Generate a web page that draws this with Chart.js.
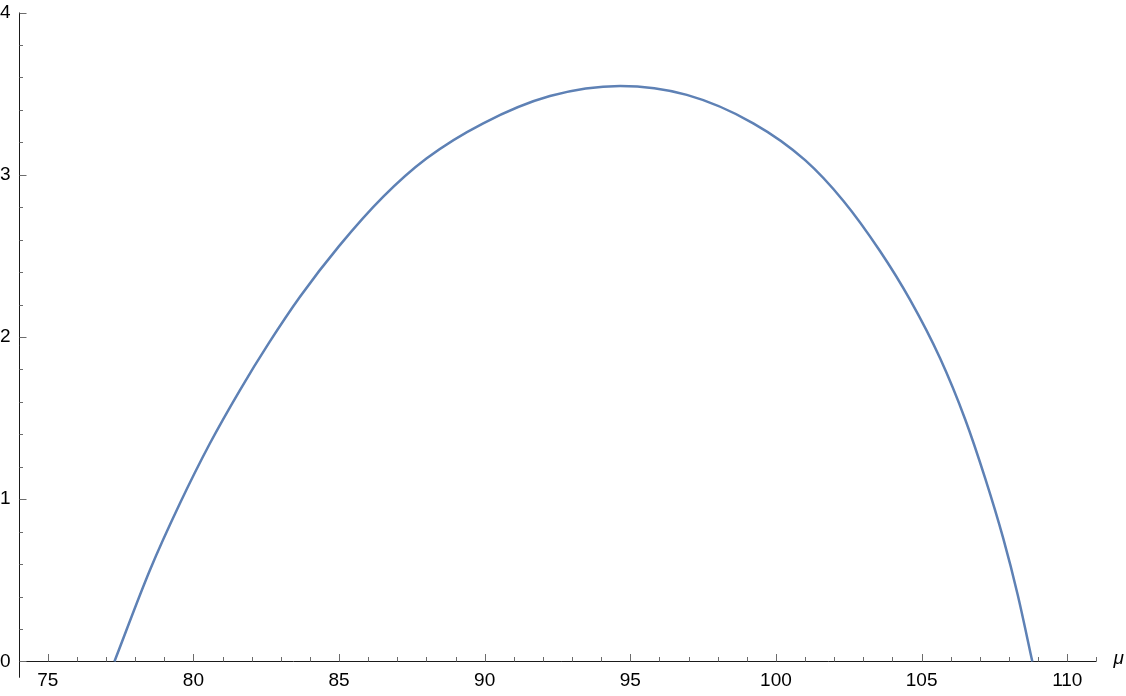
<!DOCTYPE html>
<html>
<head>
<meta charset="utf-8">
<title>Curve over mu</title>
<script src="https://cdn.jsdelivr.net/npm/chart.js@4/dist/chart.umd.min.js"></script>
<style>
  html, body { margin: 0; padding: 0; background: #fff; }
  #wrap { width: 1126px; height: 696px; position: relative; }
</style>
</head>
<body>
<div id="wrap"><canvas id="curveChart"></canvas></div>
<script>
// values
const muValues = [77.29, 78.51, 79.54, 80.57, 81.60, 82.60, 83.66, 85.0, 86.52, 88.0,
  89.95, 92.24, 94.65, 96.94, 99.22, 101.0, 102.31, 103.57, 104.6, 105.63,
  106.5, 107.18, 107.8, 108.3, 108.8];
const curveValues = [0, 0.564, 0.975, 1.345, 1.673, 1.965, 2.248, 2.56, 2.865, 3.10,
  3.317, 3.485, 3.547, 3.492, 3.317, 3.09, 2.84, 2.53, 2.23, 1.87,
  1.49, 1.13, 0.76, 0.41, 0];
const xTickLabels = [75, 80, 85, 90, 95, 100, 105, 110];
const yTickLabels = [0, 1, 2, 3, 4];

const colors = {
  curve: "#5e81b5",
  axis: "#1a1a1a",
  tick: "#6b6b6b",
  text: "#000000",
};
const labelFont = "19px 'Liberation Sans', Arial, sans-serif";

// Mathematica-style axes: lines through the origin, ticks pointing inwards
const axesPlugin = {
  id: "mmaAxes",
  beforeDatasetsDraw(chart) {
    const { ctx, scales } = chart;
    const xs = scales.x, ys = scales.y;
    const y0 = Math.round(ys.getPixelForValue(0)) + 0.5;
    const xLeft = Math.round(xs.getPixelForValue(xs.min)) + 0.5;

    ctx.save();
    ctx.lineWidth = 1;

    // axis lines
    ctx.strokeStyle = colors.axis;
    ctx.beginPath();
    ctx.moveTo(xLeft, ys.getPixelForValue(ys.min));
    ctx.lineTo(xLeft, ys.getPixelForValue(ys.max));
    ctx.moveTo(xs.getPixelForValue(74.25), y0);
    ctx.lineTo(xs.getPixelForValue(xs.max), y0);
    ctx.stroke();

    // x ticks, every 1, major every 5
    ctx.strokeStyle = colors.tick;
    ctx.beginPath();
    for (let v = 75; v <= xs.max; v++) {
      const px = Math.round(xs.getPixelForValue(v)) + 0.5;
      const len = v % 5 === 0 ? 7.5 : 4.5;
      ctx.moveTo(px, y0);
      ctx.lineTo(px, y0 - len);
    }
    // y ticks, every 0.2, major every 1
    for (let i = 0; i <= 20; i++) {
      const py = Math.round(ys.getPixelForValue(i * 0.2)) + 0.5;
      const len = i % 5 === 0 ? 7 : 3.5;
      ctx.moveTo(xLeft, py);
      ctx.lineTo(xLeft + len, py);
    }
    ctx.stroke();

    // tick labels
    ctx.fillStyle = colors.text;
    ctx.font = labelFont;
    ctx.textAlign = "center";
    ctx.textBaseline = "middle";
    xTickLabels.forEach((v) => {
      ctx.fillText(String(v), xs.getPixelForValue(v), y0 + 19);
    });
    ctx.textAlign = "right";
    yTickLabels.forEach((v) => {
      ctx.fillText(String(v), xLeft - 9, ys.getPixelForValue(v));
    });

    // axis label
    ctx.font = "italic 19px 'Liberation Sans', Arial, sans-serif";
    ctx.textAlign = "left";
    ctx.fillText("\u03bc", xs.getPixelForValue(xs.max) + 17, y0 - 3);
    ctx.restore();
  },
};

const ctxCurve = document.getElementById("curveChart").getContext("2d");
new Chart(ctxCurve, {
  type: "scatter",
  data: {
    datasets: [
      {
        data: muValues.map((m, i) => ({ x: m, y: curveValues[i] })),
        showLine: true,
        borderColor: colors.curve,
        borderWidth: 2.5,
        pointRadius: 0,
        cubicInterpolationMode: "monotone",
        fill: false,
      },
    ],
  },
  options: {
    responsive: true,
    maintainAspectRatio: false,
    animation: false,
    layout: {
      padding: { left: 18.6, right: 29.6, top: 12.5, bottom: 18.3 },
    },
    plugins: {
      legend: { display: false },
      tooltip: { enabled: false },
    },
    scales: {
      x: { type: "linear", min: 74, max: 111, display: false },
      y: { type: "linear", min: -0.1, max: 4, display: false },
    },
  },
  plugins: [axesPlugin],
});
</script>
</body>
</html>
